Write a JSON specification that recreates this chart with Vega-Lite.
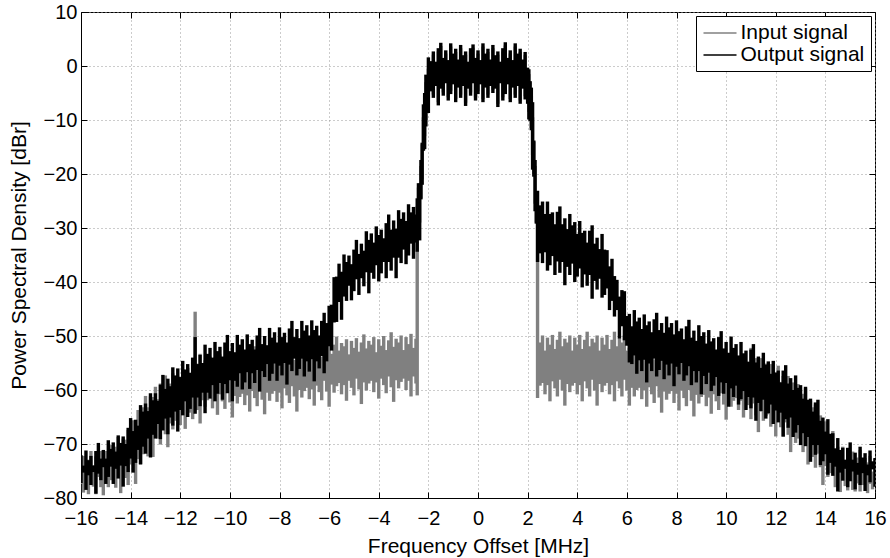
{
 "$schema": "https://vega.github.io/schema/vega-lite/v6.json",
 "width": 794, "height": 486,
 "autosize": {"type": "none"},
 "padding": {"left": 81, "top": 12, "right": 15, "bottom": 60},
 "background": "white",
 "config": {
  "font": "Liberation Sans",
  "view": {"stroke": "#000", "strokeWidth": 1},
  "axis": {
   "tickSize": -6, "tickColor": "#000", "tickWidth": 1,
   "domainColor": "#000", "domainWidth": 1,
   "labelColor": "#000", "labelFontSize": 20, "labelFont": "Liberation Sans",
   "titleFont": "Liberation Sans", "titleFontSize": 21, "titleFontWeight": "normal", "titleColor": "#000",
   "gridColor": "#999", "gridDash": [1, 3], "gridWidth": 1, "gridOpacity": 1,
   "labelFlush": false, "labelBound": false, "labelOverlap": false
  },
  "legend": {
   "orient": "top-right", "offset": 4, "padding": 6,
   "strokeColor": "#000", "fillColor": "#fff", "strokeWidth": 1,
   "symbolType": "M-1.65,0H1.65", "symbolSize": 400, "symbolStrokeWidth": 1.5, "symbolOffset": 7,
   "labelFontSize": 21, "labelFont": "Liberation Sans", "labelColor": "#000", "labelOffset": 9.5,
   "rowPadding": 1
  }
 },
 "data": {"values": [
{"f":-16.0,"outLo":-77.2,"outHi":-72.1,"inLo":-77.4,"inHi":-74.1},
{"f":-15.9,"outLo":-75.3,"outHi":-74.0,"inLo":-79.0,"inHi":-72.2},
{"f":-15.8,"outLo":-78.5,"outHi":-71.2,"inLo":-77.6,"inHi":-74.7},
{"f":-15.7,"outLo":-75.8,"outHi":-73.0,"inLo":-79.3,"inHi":-72.9},
{"f":-15.6,"outLo":-77.6,"outHi":-72.2,"inLo":-76.8,"inHi":-71.3},
{"f":-15.5,"outLo":-75.2,"outHi":-74.0,"inLo":-77.9,"inHi":-73.9},
{"f":-15.4,"outLo":-79.2,"outHi":-71.3,"inLo":-79.3,"inHi":-72.3},
{"f":-15.3,"outLo":-75.5,"outHi":-69.8,"inLo":-76.1,"inHi":-72.8},
{"f":-15.2,"outLo":-76.7,"outHi":-72.7,"inLo":-78.0,"inHi":-71.3},
{"f":-15.1,"outLo":-74.3,"outHi":-71.1,"inLo":-79.5,"inHi":-73.9},
{"f":-15.0,"outLo":-77.4,"outHi":-72.7,"inLo":-76.6,"inHi":-71.3},
{"f":-14.9,"outLo":-76.1,"outHi":-69.3,"inLo":-78.0,"inHi":-72.3},
{"f":-14.8,"outLo":-74.2,"outHi":-70.9,"inLo":-76.7,"inHi":-70.2},
{"f":-14.7,"outLo":-77.4,"outHi":-69.7,"inLo":-76.1,"inHi":-72.5},
{"f":-14.6,"outLo":-74.6,"outHi":-71.4,"inLo":-78.1,"inHi":-70.5},
{"f":-14.5,"outLo":-76.4,"outHi":-68.4,"inLo":-76.3,"inHi":-68.7},
{"f":-14.4,"outLo":-74.0,"outHi":-69.8,"inLo":-79.1,"inHi":-70.9},
{"f":-14.3,"outLo":-77.9,"outHi":-68.6,"inLo":-75.2,"inHi":-69.0},
{"f":-14.2,"outLo":-74.1,"outHi":-70.0,"inLo":-76.3,"inHi":-69.2},
{"f":-14.1,"outLo":-75.2,"outHi":-67.0,"inLo":-77.6,"inHi":-67.4},
{"f":-14.0,"outLo":-72.7,"outHi":-65.2,"inLo":-73.8,"inHi":-68.7},
{"f":-13.9,"outLo":-75.3,"outHi":-67.6,"inLo":-75.2,"inHi":-65.6},
{"f":-13.8,"outLo":-73.5,"outHi":-65.5,"inLo":-77.4,"inHi":-66.2},
{"f":-13.7,"outLo":-71.1,"outHi":-66.6,"inLo":-72.8,"inHi":-63.7},
{"f":-13.6,"outLo":-73.8,"outHi":-62.8,"inLo":-73.7,"inHi":-65.6},
{"f":-13.5,"outLo":-70.5,"outHi":-64.0,"inLo":-71.9,"inHi":-63.2},
{"f":-13.4,"outLo":-71.8,"outHi":-62.5,"inLo":-70.8,"inHi":-61.1},
{"f":-13.3,"outLo":-69.0,"outHi":-63.9,"inLo":-72.3,"inHi":-63.2},
{"f":-13.2,"outLo":-72.5,"outHi":-60.6,"inLo":-70.0,"inHi":-61.2},
{"f":-13.1,"outLo":-68.3,"outHi":-61.9,"inLo":-72.4,"inHi":-61.3},
{"f":-13.0,"outLo":-69.0,"outHi":-60.6,"inLo":-68.1,"inHi":-59.4},
{"f":-12.9,"outLo":-66.3,"outHi":-62.0,"inLo":-69.0,"inHi":-61.7},
{"f":-12.8,"outLo":-69.1,"outHi":-59.0,"inLo":-70.1,"inHi":-58.8},
{"f":-12.7,"outLo":-67.5,"outHi":-57.2,"inLo":-66.6,"inHi":-59.6},
{"f":-12.6,"outLo":-65.3,"outHi":-59.8,"inLo":-68.2,"inHi":-57.3},
{"f":-12.5,"outLo":-68.2,"outHi":-57.9,"inLo":-70.6,"inHi":-60.9},
{"f":-12.4,"outLo":-65.1,"outHi":-59.3,"inLo":-66.2,"inHi":-58.8},
{"f":-12.3,"outLo":-66.6,"outHi":-55.8,"inLo":-67.3,"inHi":-56.9},
{"f":-12.2,"outLo":-64.0,"outHi":-57.3,"inLo":-65.7,"inHi":-59.2},
{"f":-12.1,"outLo":-67.7,"outHi":-56.0,"inLo":-64.8,"inHi":-57.4},
{"f":-12.0,"outLo":-63.7,"outHi":-57.6,"inLo":-66.5,"inHi":-57.7},
{"f":-11.9,"outLo":-64.7,"outHi":-54.6,"inLo":-64.5,"inHi":-56.1},
{"f":-11.8,"outLo":-62.1,"outHi":-56.2,"inLo":-67.2,"inHi":-58.6},
{"f":-11.7,"outLo":-65.0,"outHi":-55.2,"inLo":-63.2,"inHi":-55.9},
{"f":-11.6,"outLo":-63.5,"outHi":-56.8,"inLo":-64.2,"inHi":-56.9},
{"f":-11.5,"outLo":-61.4,"outHi":-54.0,"inLo":-65.4,"inHi":-54.8},
{"f":-11.4,"outLo":-64.4,"outHi":-50.2,"inLo":-62.0,"inHi":-45.5},
{"f":-11.3,"outLo":-61.4,"outHi":-55.2,"inLo":-63.7,"inHi":-55.1},
{"f":-11.2,"outLo":-63.0,"outHi":-53.5,"inLo":-66.2,"inHi":-53.3},
{"f":-11.1,"outLo":-60.5,"outHi":-55.0,"inLo":-61.9,"inHi":-55.7},
{"f":-11.0,"outLo":-64.3,"outHi":-51.6,"inLo":-63.1,"inHi":-54.5},
{"f":-10.9,"outLo":-60.5,"outHi":-53.3,"inLo":-61.9,"inHi":-55.1},
{"f":-10.8,"outLo":-61.6,"outHi":-52.2,"inLo":-61.3,"inHi":-53.8},
{"f":-10.7,"outLo":-59.1,"outHi":-54.0,"inLo":-63.4,"inHi":-56.5},
{"f":-10.6,"outLo":-62.1,"outHi":-51.1,"inLo":-61.6,"inHi":-54.0},
{"f":-10.5,"outLo":-60.7,"outHi":-52.8,"inLo":-64.6,"inHi":-55.3},
{"f":-10.4,"outLo":-58.7,"outHi":-52.0,"inLo":-60.8,"inHi":-53.4},
{"f":-10.3,"outLo":-61.8,"outHi":-53.8,"inLo":-62.1,"inHi":-55.9},
{"f":-10.2,"outLo":-58.9,"outHi":-51.2,"inLo":-63.5,"inHi":-54.2},
{"f":-10.1,"outLo":-60.6,"outHi":-49.8,"inLo":-60.4,"inHi":-52.6},
{"f":-10.0,"outLo":-58.2,"outHi":-52.8,"inLo":-62.3,"inHi":-55.3},
{"f":-9.9,"outLo":-62.1,"outHi":-51.3,"inLo":-65.1,"inHi":-53.8},
{"f":-9.8,"outLo":-58.3,"outHi":-53.0,"inLo":-61.1,"inHi":-54.4},
{"f":-9.7,"outLo":-59.4,"outHi":-49.8,"inLo":-62.5,"inHi":-53.1},
{"f":-9.6,"outLo":-56.9,"outHi":-51.6,"inLo":-61.3,"inHi":-55.8},
{"f":-9.5,"outLo":-59.9,"outHi":-50.6,"inLo":-60.7,"inHi":-53.4},
{"f":-9.4,"outLo":-58.6,"outHi":-52.5,"inLo":-62.8,"inHi":-54.6},
{"f":-9.3,"outLo":-56.7,"outHi":-49.7,"inLo":-61.0,"inHi":-52.7},
{"f":-9.2,"outLo":-59.8,"outHi":-51.5,"inLo":-64.0,"inHi":-55.3},
{"f":-9.1,"outLo":-56.9,"outHi":-50.7,"inLo":-60.2,"inHi":-53.5},
{"f":-9.0,"outLo":-58.7,"outHi":-52.5,"inLo":-61.5,"inHi":-51.9},
{"f":-8.9,"outLo":-56.3,"outHi":-49.9,"inLo":-63.0,"inHi":-54.6},
{"f":-8.8,"outLo":-60.3,"outHi":-48.5,"inLo":-59.8,"inHi":-53.1},
{"f":-8.7,"outLo":-56.5,"outHi":-51.5,"inLo":-61.8,"inHi":-53.8},
{"f":-8.6,"outLo":-57.6,"outHi":-50.0,"inLo":-64.5,"inHi":-52.4},
{"f":-8.5,"outLo":-55.2,"outHi":-51.7,"inLo":-60.5,"inHi":-55.1},
{"f":-8.4,"outLo":-58.3,"outHi":-48.5,"inLo":-62.0,"inHi":-52.7},
{"f":-8.3,"outLo":-57.0,"outHi":-50.3,"inLo":-60.7,"inHi":-53.9},
{"f":-8.2,"outLo":-55.1,"outHi":-49.3,"inLo":-60.2,"inHi":-52.0},
{"f":-8.1,"outLo":-58.3,"outHi":-51.2,"inLo":-62.2,"inHi":-54.6},
{"f":-8.0,"outLo":-55.5,"outHi":-48.4,"inLo":-60.5,"inHi":-52.8},
{"f":-7.9,"outLo":-57.3,"outHi":-50.2,"inLo":-63.4,"inHi":-51.3},
{"f":-7.8,"outLo":-55.0,"outHi":-49.4,"inLo":-59.7,"inHi":-53.9},
{"f":-7.7,"outLo":-59.0,"outHi":-51.2,"inLo":-61.0,"inHi":-52.4},
{"f":-7.6,"outLo":-55.3,"outHi":-48.6,"inLo":-62.4,"inHi":-53.1},
{"f":-7.5,"outLo":-56.5,"outHi":-47.2,"inLo":-59.3,"inHi":-51.7},
{"f":-7.4,"outLo":-54.2,"outHi":-50.2,"inLo":-61.2,"inHi":-54.4},
{"f":-7.3,"outLo":-57.3,"outHi":-48.7,"inLo":-64.0,"inHi":-52.0},
{"f":-7.2,"outLo":-56.1,"outHi":-50.4,"inLo":-60.0,"inHi":-53.2},
{"f":-7.1,"outLo":-54.2,"outHi":-47.2,"inLo":-61.4,"inHi":-51.4},
{"f":-7.0,"outLo":-57.5,"outHi":-49.0,"inLo":-60.2,"inHi":-53.9},
{"f":-6.9,"outLo":-54.7,"outHi":-48.0,"inLo":-59.6,"inHi":-52.1},
{"f":-6.8,"outLo":-56.6,"outHi":-49.9,"inLo":-61.7,"inHi":-50.6},
{"f":-6.7,"outLo":-54.3,"outHi":-47.1,"inLo":-59.9,"inHi":-53.2},
{"f":-6.6,"outLo":-58.4,"outHi":-48.9,"inLo":-62.9,"inHi":-51.7},
{"f":-6.5,"outLo":-54.7,"outHi":-48.1,"inLo":-59.2,"inHi":-52.4},
{"f":-6.4,"outLo":-56.0,"outHi":-49.9,"inLo":-60.4,"inHi":-51.0},
{"f":-6.3,"outLo":-53.7,"outHi":-47.2,"inLo":-61.9,"inHi":-53.8},
{"f":-6.2,"outLo":-56.9,"outHi":-45.7,"inLo":-58.3,"inHi":-51.3},
{"f":-6.1,"outLo":-54.7,"outHi":-47.6,"inLo":-60.3,"inHi":-52.6},
{"f":-6.0,"outLo":-51.9,"outHi":-44.4,"inLo":-63.1,"inHi":-50.8},
{"f":-5.9,"outLo":-52.7,"outHi":-44.2,"inLo":-59.0,"inHi":-53.3},
{"f":-5.8,"outLo":-47.5,"outHi":-39.1,"inLo":-60.5,"inHi":-51.6},
{"f":-5.7,"outLo":-47.4,"outHi":-39.0,"inLo":-59.3,"inHi":-50.1},
{"f":-5.6,"outLo":-43.7,"outHi":-36.6,"inLo":-58.7,"inHi":-52.7},
{"f":-5.5,"outLo":-47.0,"outHi":-38.1,"inLo":-60.8,"inHi":-51.3},
{"f":-5.4,"outLo":-42.7,"outHi":-34.9,"inLo":-59.1,"inHi":-51.9},
{"f":-5.3,"outLo":-43.5,"outHi":-36.3,"inLo":-62.0,"inHi":-50.6},
{"f":-5.2,"outLo":-40.7,"outHi":-35.1,"inLo":-58.3,"inHi":-53.4},
{"f":-5.1,"outLo":-43.4,"outHi":-36.7,"inLo":-59.6,"inHi":-50.9},
{"f":-5.0,"outLo":-41.7,"outHi":-34.0,"inLo":-61.0,"inHi":-52.2},
{"f":-4.9,"outLo":-39.5,"outHi":-32.2,"inLo":-57.9,"inHi":-50.4},
{"f":-4.8,"outLo":-42.4,"outHi":-34.8,"inLo":-59.9,"inHi":-52.9},
{"f":-4.7,"outLo":-39.3,"outHi":-32.9,"inLo":-62.6,"inHi":-51.2},
{"f":-4.6,"outLo":-40.8,"outHi":-34.2,"inLo":-58.6,"inHi":-49.7},
{"f":-4.5,"outLo":-38.2,"outHi":-30.6,"inLo":-60.1,"inHi":-52.3},
{"f":-4.4,"outLo":-42.1,"outHi":-32.2,"inLo":-58.8,"inHi":-50.9},
{"f":-4.3,"outLo":-38.3,"outHi":-31.0,"inLo":-58.3,"inHi":-51.6},
{"f":-4.2,"outLo":-39.4,"outHi":-32.7,"inLo":-60.4,"inHi":-50.2},
{"f":-4.1,"outLo":-36.9,"outHi":-29.7,"inLo":-58.6,"inHi":-53.0},
{"f":-4.0,"outLo":-39.9,"outHi":-31.3,"inLo":-61.6,"inHi":-50.6},
{"f":-3.9,"outLo":-38.4,"outHi":-30.3,"inLo":-57.9,"inHi":-51.8},
{"f":-3.8,"outLo":-36.3,"outHi":-31.9,"inLo":-59.1,"inHi":-50.0},
{"f":-3.7,"outLo":-39.3,"outHi":-29.1,"inLo":-60.6,"inHi":-52.6},
{"f":-3.6,"outLo":-36.3,"outHi":-27.5,"inLo":-57.5,"inHi":-50.8},
{"f":-3.5,"outLo":-37.9,"outHi":-30.3,"inLo":-59.5,"inHi":-49.3},
{"f":-3.4,"outLo":-35.5,"outHi":-28.6,"inLo":-62.2,"inHi":-52.0},
{"f":-3.3,"outLo":-39.3,"outHi":-30.1,"inLo":-58.2,"inHi":-50.5},
{"f":-3.2,"outLo":-35.5,"outHi":-26.7,"inLo":-59.7,"inHi":-51.2},
{"f":-3.1,"outLo":-36.5,"outHi":-28.3,"inLo":-58.5,"inHi":-49.9},
{"f":-3.0,"outLo":-34.0,"outHi":-27.1,"inLo":-57.9,"inHi":-52.6},
{"f":-2.9,"outLo":-36.7,"outHi":-28.7,"inLo":-60.0,"inHi":-50.2},
{"f":-2.8,"outLo":-35.1,"outHi":-25.6,"inLo":-58.3,"inHi":-51.5},
{"f":-2.7,"outLo":-32.9,"outHi":-27.1,"inLo":-61.2,"inHi":-49.6},
{"f":-2.6,"outLo":-35.7,"outHi":-26.1,"inLo":-57.5,"inHi":-52.2},
{"f":-2.5,"outLo":-32.7,"outHi":-27.5,"inLo":-58.8,"inHi":-50.5},
{"f":-2.45,"outLo":-34.4,"outHi":-24.5,"inLo":-61.0,"inHi":-26.0},
{"f":-2.4,"outLo":-30.7,"outHi":-21.7,"inLo":-30.5,"inHi":-22.5},
{"f":-2.35,"outLo":-32.3,"outHi":-21.8,"inLo":-29.0,"inHi":-22.0},
{"f":-2.3,"outLo":-24.7,"outHi":-17.4,"inLo":-24.5,"inHi":-18.5},
{"f":-2.25,"outLo":-22.0,"outHi":-14.2,"inLo":-21.0,"inHi":-14.5},
{"f":-2.2,"outLo":-15.7,"outHi":-7.1,"inLo":-15.5,"inHi":-9.5},
{"f":-2.15,"outLo":-15.4,"outHi":-5.0,"inLo":-13.0,"inHi":-5.5},
{"f":-2.1,"outLo":-11.2,"outHi":-1.6,"inLo":-10.0,"inHi":-3.0},
{"f":-2.05,"outLo":-6.9,"outHi":-2.1,"inLo":-6.5,"inHi":-2.5},
{"f":-2.0,"outLo":-8.7,"outHi":1.6,"inLo":-6.0,"inHi":-0.5},
{"f":-1.9,"outLo":-4.7,"outHi":0.9,"inLo":-4.5,"inHi":0.8},
{"f":-1.8,"outLo":-5.9,"outHi":2.7,"inLo":-5.3,"inHi":2.1},
{"f":-1.7,"outLo":-3.7,"outHi":0.8,"inLo":-3.1,"inHi":0.2},
{"f":-1.6,"outLo":-7.3,"outHi":3.3,"inLo":-6.7,"inHi":2.7},
{"f":-1.5,"outLo":-4.2,"outHi":4.3,"inLo":-3.6,"inHi":3.7},
{"f":-1.4,"outLo":-5.5,"outHi":1.5,"inLo":-4.9,"inHi":0.9},
{"f":-1.3,"outLo":-3.2,"outHi":2.9,"inLo":-2.6,"inHi":2.3},
{"f":-1.2,"outLo":-6.4,"outHi":1.1,"inLo":-5.8,"inHi":0.5},
{"f":-1.1,"outLo":-5.2,"outHi":4.2,"inLo":-4.6,"inHi":3.6},
{"f":-1.0,"outLo":-3.4,"outHi":2.3,"inLo":-2.8,"inHi":1.7},
{"f":-0.9,"outLo":-6.7,"outHi":3.2,"inLo":-6.1,"inHi":2.6},
{"f":-0.8,"outLo":-4.0,"outHi":1.2,"inLo":-3.4,"inHi":0.6},
{"f":-0.7,"outLo":-5.9,"outHi":3.9,"inLo":-5.3,"inHi":3.3},
{"f":-0.6,"outLo":-3.7,"outHi":2.0,"inLo":-3.1,"inHi":1.4},
{"f":-0.5,"outLo":-7.4,"outHi":2.7,"inLo":-6.8,"inHi":2.1},
{"f":-0.4,"outLo":-4.2,"outHi":0.8,"inLo":-3.6,"inHi":0.2},
{"f":-0.3,"outLo":-5.5,"outHi":3.3,"inLo":-4.9,"inHi":2.7},
{"f":-0.2,"outLo":-3.2,"outHi":4.0,"inLo":-2.6,"inHi":3.4},
{"f":-0.1,"outLo":-6.4,"outHi":1.5,"inLo":-5.8,"inHi":0.9},
{"f":0.0,"outLo":-5.2,"outHi":2.9,"inLo":-4.6,"inHi":2.3},
{"f":0.1,"outLo":-3.4,"outHi":1.1,"inLo":-2.8,"inHi":0.5},
{"f":0.2,"outLo":-6.7,"outHi":4.2,"inLo":-6.1,"inHi":3.6},
{"f":0.3,"outLo":-4.0,"outHi":2.3,"inLo":-3.4,"inHi":1.7},
{"f":0.4,"outLo":-5.9,"outHi":3.2,"inLo":-5.3,"inHi":2.6},
{"f":0.5,"outLo":-3.7,"outHi":1.2,"inLo":-3.1,"inHi":0.6},
{"f":0.6,"outLo":-5.0,"outHi":3.9,"inLo":-4.4,"inHi":3.3},
{"f":0.7,"outLo":-4.2,"outHi":2.0,"inLo":-3.6,"inHi":1.4},
{"f":0.8,"outLo":-7.6,"outHi":2.7,"inLo":-7.0,"inHi":2.1},
{"f":0.9,"outLo":-3.2,"outHi":0.8,"inLo":-2.6,"inHi":0.2},
{"f":1.0,"outLo":-6.4,"outHi":3.3,"inLo":-5.8,"inHi":2.7},
{"f":1.1,"outLo":-5.2,"outHi":4.4,"inLo":-4.6,"inHi":3.8},
{"f":1.2,"outLo":-3.4,"outHi":1.5,"inLo":-2.8,"inHi":0.9},
{"f":1.3,"outLo":-6.7,"outHi":2.9,"inLo":-6.1,"inHi":2.3},
{"f":1.4,"outLo":-4.0,"outHi":1.1,"inLo":-3.4,"inHi":0.5},
{"f":1.5,"outLo":-5.9,"outHi":4.2,"inLo":-5.3,"inHi":3.6},
{"f":1.6,"outLo":-3.7,"outHi":2.3,"inLo":-3.1,"inHi":1.7},
{"f":1.7,"outLo":-7.0,"outHi":3.2,"inLo":-6.4,"inHi":2.6},
{"f":1.8,"outLo":-4.2,"outHi":1.2,"inLo":-3.6,"inHi":0.6},
{"f":1.9,"outLo":-6.2,"outHi":2.6,"inLo":-5.6,"inHi":2.0},
{"f":2.0,"outLo":-7.0,"outHi":-0.3,"inLo":-5.8,"inHi":-0.8},
{"f":2.05,"outLo":-9.9,"outHi":-0.6,"inLo":-8.5,"inHi":-1.5},
{"f":2.1,"outLo":-10.2,"outHi":-2.8,"inLo":-10.0,"inHi":-3.0},
{"f":2.15,"outLo":-11.9,"outHi":-4.0,"inLo":-11.5,"inHi":-5.5},
{"f":2.2,"outLo":-19.2,"outHi":-6.7,"inLo":-16.5,"inHi":-9.5},
{"f":2.25,"outLo":-20.5,"outHi":-13.8,"inLo":-20.0,"inHi":-14.0},
{"f":2.3,"outLo":-26.9,"outHi":-17.4,"inLo":-25.5,"inHi":-18.5},
{"f":2.35,"outLo":-29.2,"outHi":-23.2,"inLo":-29.0,"inHi":-23.5},
{"f":2.4,"outLo":-36.3,"outHi":-23.1,"inLo":-61.5,"inHi":-26.0},
{"f":2.5,"outLo":-34.7,"outHi":-25.8,"inLo":-59.2,"inHi":-51.2},
{"f":2.6,"outLo":-36.5,"outHi":-25.1,"inLo":-58.7,"inHi":-49.9},
{"f":2.7,"outLo":-34.5,"outHi":-27.4,"inLo":-60.8,"inHi":-52.7},
{"f":2.8,"outLo":-37.9,"outHi":-25.1,"inLo":-59.1,"inHi":-50.3},
{"f":2.9,"outLo":-36.9,"outHi":-27.4,"inLo":-62.1,"inHi":-51.6},
{"f":3.0,"outLo":-35.2,"outHi":-27.1,"inLo":-58.4,"inHi":-49.8},
{"f":3.1,"outLo":-38.7,"outHi":-29.3,"inLo":-59.7,"inHi":-52.4},
{"f":3.2,"outLo":-36.2,"outHi":-27.0,"inLo":-61.2,"inHi":-50.7},
{"f":3.3,"outLo":-38.3,"outHi":-26.0,"inLo":-58.1,"inHi":-49.2},
{"f":3.4,"outLo":-36.3,"outHi":-29.3,"inLo":-60.1,"inHi":-51.9},
{"f":3.5,"outLo":-40.6,"outHi":-28.2,"inLo":-62.9,"inHi":-50.5},
{"f":3.6,"outLo":-37.2,"outHi":-30.2,"inLo":-58.9,"inHi":-51.2},
{"f":3.7,"outLo":-38.7,"outHi":-27.4,"inLo":-60.4,"inHi":-49.9},
{"f":3.8,"outLo":-36.6,"outHi":-29.5,"inLo":-59.2,"inHi":-52.7},
{"f":3.9,"outLo":-40.0,"outHi":-28.9,"inLo":-58.7,"inHi":-50.3},
{"f":4.0,"outLo":-39.0,"outHi":-31.1,"inLo":-60.8,"inHi":-51.6},
{"f":4.1,"outLo":-37.5,"outHi":-28.7,"inLo":-59.1,"inHi":-49.8},
{"f":4.2,"outLo":-41.0,"outHi":-30.9,"inLo":-62.1,"inHi":-52.4},
{"f":4.3,"outLo":-38.6,"outHi":-30.5,"inLo":-58.4,"inHi":-50.7},
{"f":4.4,"outLo":-40.7,"outHi":-32.7,"inLo":-59.7,"inHi":-49.2},
{"f":4.5,"outLo":-38.7,"outHi":-30.5,"inLo":-61.2,"inHi":-51.9},
{"f":4.6,"outLo":-43.1,"outHi":-29.5,"inLo":-58.1,"inHi":-50.5},
{"f":4.7,"outLo":-39.8,"outHi":-32.9,"inLo":-60.1,"inHi":-51.2},
{"f":4.8,"outLo":-41.4,"outHi":-31.8,"inLo":-62.9,"inHi":-49.9},
{"f":4.9,"outLo":-39.4,"outHi":-33.9,"inLo":-58.9,"inHi":-52.7},
{"f":5.0,"outLo":-42.9,"outHi":-31.1,"inLo":-60.4,"inHi":-50.3},
{"f":5.1,"outLo":-42.4,"outHi":-34.0,"inLo":-59.2,"inHi":-51.6},
{"f":5.2,"outLo":-41.2,"outHi":-34.1,"inLo":-58.7,"inHi":-49.8},
{"f":5.3,"outLo":-45.2,"outHi":-37.1,"inLo":-60.8,"inHi":-52.4},
{"f":5.4,"outLo":-43.5,"outHi":-35.7,"inLo":-59.1,"inHi":-50.7},
{"f":5.5,"outLo":-46.4,"outHi":-38.9,"inLo":-62.1,"inHi":-49.2},
{"f":5.6,"outLo":-45.2,"outHi":-39.6,"inLo":-58.4,"inHi":-51.9},
{"f":5.7,"outLo":-50.5,"outHi":-42.7,"inLo":-59.7,"inHi":-50.5},
{"f":5.8,"outLo":-48.2,"outHi":-41.5,"inLo":-61.2,"inHi":-51.2},
{"f":5.9,"outLo":-50.8,"outHi":-41.7,"inLo":-58.1,"inHi":-49.9},
{"f":6.0,"outLo":-51.8,"outHi":-46.3,"inLo":-60.1,"inHi":-52.7},
{"f":6.1,"outLo":-54.9,"outHi":-45.9,"inLo":-62.9,"inHi":-50.3},
{"f":6.2,"outLo":-55.2,"outHi":-48.2,"inLo":-59.6,"inHi":-52.6},
{"f":6.3,"outLo":-53.6,"outHi":-45.2,"inLo":-61.2,"inHi":-50.9},
{"f":6.4,"outLo":-57.0,"outHi":-47.3,"inLo":-60.0,"inHi":-53.5},
{"f":6.5,"outLo":-54.5,"outHi":-46.6,"inLo":-59.6,"inHi":-51.9},
{"f":6.6,"outLo":-56.5,"outHi":-48.7,"inLo":-61.7,"inHi":-50.5},
{"f":6.7,"outLo":-54.4,"outHi":-46.0,"inLo":-60.1,"inHi":-53.2},
{"f":6.8,"outLo":-58.6,"outHi":-48.0,"inLo":-63.1,"inHi":-51.9},
{"f":6.9,"outLo":-55.1,"outHi":-47.3,"inLo":-59.5,"inHi":-52.7},
{"f":7.0,"outLo":-56.5,"outHi":-49.3,"inLo":-60.8,"inHi":-51.4},
{"f":7.1,"outLo":-54.2,"outHi":-46.9,"inLo":-62.4,"inHi":-54.3},
{"f":7.2,"outLo":-57.5,"outHi":-45.7,"inLo":-59.3,"inHi":-51.9},
{"f":7.3,"outLo":-56.3,"outHi":-48.9,"inLo":-61.4,"inHi":-53.3},
{"f":7.4,"outLo":-54.6,"outHi":-47.6,"inLo":-64.2,"inHi":-51.6},
{"f":7.5,"outLo":-58.0,"outHi":-49.4,"inLo":-60.3,"inHi":-54.2},
{"f":7.6,"outLo":-55.3,"outHi":-46.4,"inLo":-61.8,"inHi":-52.6},
{"f":7.7,"outLo":-57.3,"outHi":-48.4,"inLo":-60.7,"inHi":-51.2},
{"f":7.8,"outLo":-55.1,"outHi":-47.6,"inLo":-60.2,"inHi":-53.9},
{"f":7.9,"outLo":-59.3,"outHi":-49.7,"inLo":-62.4,"inHi":-52.6},
{"f":8.0,"outLo":-55.7,"outHi":-47.1,"inLo":-60.7,"inHi":-53.4},
{"f":8.1,"outLo":-57.1,"outHi":-49.1,"inLo":-63.8,"inHi":-52.1},
{"f":8.2,"outLo":-55.0,"outHi":-48.6,"inLo":-60.1,"inHi":-55.0},
{"f":8.3,"outLo":-58.3,"outHi":-50.6,"inLo":-61.5,"inHi":-52.7},
{"f":8.4,"outLo":-57.3,"outHi":-48.2,"inLo":-63.0,"inHi":-54.0},
{"f":8.5,"outLo":-55.6,"outHi":-47.0,"inLo":-60.0,"inHi":-52.3},
{"f":8.6,"outLo":-59.1,"outHi":-50.3,"inLo":-62.0,"inHi":-55.0},
{"f":8.7,"outLo":-56.5,"outHi":-49.0,"inLo":-64.9,"inHi":-53.3},
{"f":8.8,"outLo":-58.6,"outHi":-50.9,"inLo":-60.9,"inHi":-51.9},
{"f":8.9,"outLo":-56.5,"outHi":-48.0,"inLo":-62.5,"inHi":-54.6},
{"f":9.0,"outLo":-60.8,"outHi":-50.0,"inLo":-61.3,"inHi":-53.3},
{"f":9.1,"outLo":-57.4,"outHi":-49.3,"inLo":-60.9,"inHi":-54.1},
{"f":9.2,"outLo":-58.9,"outHi":-51.4,"inLo":-63.0,"inHi":-52.8},
{"f":9.3,"outLo":-56.8,"outHi":-48.9,"inLo":-61.4,"inHi":-55.7},
{"f":9.4,"outLo":-60.2,"outHi":-51.0,"inLo":-64.4,"inHi":-53.4},
{"f":9.5,"outLo":-59.2,"outHi":-50.4,"inLo":-60.8,"inHi":-54.7},
{"f":9.6,"outLo":-57.6,"outHi":-52.5,"inLo":-62.1,"inHi":-53.0},
{"f":9.7,"outLo":-61.1,"outHi":-50.2,"inLo":-63.7,"inHi":-55.6},
{"f":9.8,"outLo":-58.6,"outHi":-49.1,"inLo":-60.6,"inHi":-54.0},
{"f":9.9,"outLo":-60.7,"outHi":-52.3,"inLo":-62.7,"inHi":-52.6},
{"f":10.0,"outLo":-58.7,"outHi":-51.1,"inLo":-65.5,"inHi":-55.3},
{"f":10.1,"outLo":-63.1,"outHi":-53.1,"inLo":-61.6,"inHi":-54.0},
{"f":10.2,"outLo":-59.7,"outHi":-50.1,"inLo":-63.1,"inHi":-54.8},
{"f":10.3,"outLo":-61.3,"outHi":-52.2,"inLo":-62.0,"inHi":-53.5},
{"f":10.4,"outLo":-59.2,"outHi":-51.5,"inLo":-61.5,"inHi":-56.4},
{"f":10.5,"outLo":-62.7,"outHi":-53.6,"inLo":-63.7,"inHi":-54.0},
{"f":10.6,"outLo":-61.7,"outHi":-51.1,"inLo":-62.0,"inHi":-55.4},
{"f":10.7,"outLo":-60.2,"outHi":-53.2,"inLo":-65.1,"inHi":-53.7},
{"f":10.8,"outLo":-63.7,"outHi":-52.7,"inLo":-61.4,"inHi":-56.3},
{"f":10.9,"outLo":-61.3,"outHi":-54.8,"inLo":-62.8,"inHi":-54.7},
{"f":11.0,"outLo":-63.4,"outHi":-52.5,"inLo":-65.4,"inHi":-52.2},
{"f":11.1,"outLo":-61.4,"outHi":-51.5,"inLo":-62.5,"inHi":-55.2},
{"f":11.2,"outLo":-65.7,"outHi":-54.9,"inLo":-64.7,"inHi":-54.1},
{"f":11.3,"outLo":-62.4,"outHi":-53.8,"inLo":-67.8,"inHi":-55.1},
{"f":11.4,"outLo":-63.9,"outHi":-55.9,"inLo":-64.0,"inHi":-54.1},
{"f":11.5,"outLo":-61.8,"outHi":-53.1,"inLo":-65.7,"inHi":-57.2},
{"f":11.6,"outLo":-65.3,"outHi":-55.3,"inLo":-64.8,"inHi":-55.1},
{"f":11.7,"outLo":-64.3,"outHi":-54.7,"inLo":-64.5,"inHi":-56.7},
{"f":11.8,"outLo":-62.7,"outHi":-57.0,"inLo":-66.8,"inHi":-55.2},
{"f":11.9,"outLo":-66.3,"outHi":-54.6,"inLo":-65.4,"inHi":-58.1},
{"f":12.0,"outLo":-63.8,"outHi":-56.8,"inLo":-68.6,"inHi":-56.7},
{"f":12.1,"outLo":-66.0,"outHi":-56.4,"inLo":-65.2,"inHi":-55.5},
{"f":12.2,"outLo":-64.2,"outHi":-58.6,"inLo":-66.9,"inHi":-58.5},
{"f":12.3,"outLo":-68.6,"outHi":-56.4,"inLo":-68.7,"inHi":-57.4},
{"f":12.4,"outLo":-65.4,"outHi":-55.4,"inLo":-66.0,"inHi":-58.4},
{"f":12.5,"outLo":-67.0,"outHi":-58.8,"inLo":-68.3,"inHi":-57.4},
{"f":12.6,"outLo":-65.1,"outHi":-57.8,"inLo":-71.5,"inHi":-60.6},
{"f":12.7,"outLo":-68.7,"outHi":-60.0,"inLo":-67.9,"inHi":-58.6},
{"f":12.8,"outLo":-67.9,"outHi":-57.3,"inLo":-69.8,"inHi":-60.3},
{"f":12.9,"outLo":-66.5,"outHi":-59.6,"inLo":-69.0,"inHi":-58.9},
{"f":13.0,"outLo":-70.2,"outHi":-59.1,"inLo":-68.9,"inHi":-61.9},
{"f":13.1,"outLo":-68.0,"outHi":-61.6,"inLo":-71.5,"inHi":-60.7},
{"f":13.2,"outLo":-70.4,"outHi":-59.4,"inLo":-70.3,"inHi":-59.7},
{"f":13.3,"outLo":-68.7,"outHi":-61.8,"inLo":-73.8,"inHi":-62.9},
{"f":13.4,"outLo":-73.3,"outHi":-61.6,"inLo":-70.6,"inHi":-62.0},
{"f":13.5,"outLo":-70.2,"outHi":-64.0,"inLo":-72.4,"inHi":-63.2},
{"f":13.6,"outLo":-72.0,"outHi":-62.3,"inLo":-74.4,"inHi":-62.7},
{"f":13.7,"outLo":-70.2,"outHi":-61.8,"inLo":-71.8,"inHi":-66.3},
{"f":13.8,"outLo":-73.9,"outHi":-65.7,"inLo":-74.3,"inHi":-64.7},
{"f":13.9,"outLo":-73.2,"outHi":-65.1,"inLo":-77.6,"inHi":-66.8},
{"f":14.0,"outLo":-71.9,"outHi":-67.7,"inLo":-74.1,"inHi":-65.8},
{"f":14.1,"outLo":-75.7,"outHi":-65.4,"inLo":-76.1,"inHi":-69.2},
{"f":14.2,"outLo":-73.5,"outHi":-68.1,"inLo":-75.4,"inHi":-68.3},
{"f":14.3,"outLo":-75.9,"outHi":-68.0,"inLo":-75.4,"inHi":-67.6},
{"f":14.4,"outLo":-74.2,"outHi":-70.8,"inLo":-78.0,"inHi":-71.1},
{"f":14.5,"outLo":-78.8,"outHi":-68.9,"inLo":-76.8,"inHi":-70.5},
{"f":14.6,"outLo":-75.3,"outHi":-71.1,"inLo":-78.9,"inHi":-71.5},
{"f":14.7,"outLo":-76.8,"outHi":-70.7,"inLo":-76.4,"inHi":-70.5},
{"f":14.8,"outLo":-74.6,"outHi":-72.9,"inLo":-77.8,"inHi":-73.6},
{"f":14.9,"outLo":-78.0,"outHi":-70.7,"inLo":-78.6,"inHi":-71.5},
{"f":15.0,"outLo":-76.9,"outHi":-69.7,"inLo":-76.5,"inHi":-73.1},
{"f":15.1,"outLo":-75.1,"outHi":-72.9,"inLo":-78.5,"inHi":-71.4},
{"f":15.2,"outLo":-78.4,"outHi":-71.6,"inLo":-78.8,"inHi":-74.1},
{"f":15.3,"outLo":-75.7,"outHi":-73.5,"inLo":-77.3,"inHi":-72.5},
{"f":15.4,"outLo":-77.6,"outHi":-70.5,"inLo":-78.8,"inHi":-71.1},
{"f":15.5,"outLo":-75.4,"outHi":-72.5,"inLo":-77.6,"inHi":-73.9},
{"f":15.6,"outLo":-78.7,"outHi":-71.7,"inLo":-77.1,"inHi":-72.6},
{"f":15.7,"outLo":-75.8,"outHi":-73.8,"inLo":-79.1,"inHi":-73.4},
{"f":15.8,"outLo":-77.1,"outHi":-71.2,"inLo":-77.4,"inHi":-72.2},
{"f":15.9,"outLo":-74.7,"outHi":-73.2,"inLo":-78.4,"inHi":-75.1},
{"f":16.0,"outLo":-77.9,"outHi":-72.6,"inLo":-76.6,"inHi":-72.8}
 ]},
 "layer": [
  {
   "mark": {"type": "rule", "strokeWidth": 3.4, "strokeCap": "butt", "clip": true},
   "encoding": {
    "x": {"field": "f", "type": "quantitative",
          "scale": {"domain": [-16, 16], "nice": false, "zero": false},
          "axis": {"orient": "bottom", "values": [-16,-14,-12,-10,-8,-6,-4,-2,0,2,4,6,8,10,12,14,16],
                   "title": "Frequency Offset [MHz]", "grid": true, "labelPadding": 16, "titlePadding": 7}},
    "y": {"field": "inLo", "type": "quantitative",
          "scale": {"domain": [-80, 10], "nice": false, "zero": false},
          "axis": {"orient": "left", "values": [-80,-70,-60,-50,-40,-30,-20,-10,0,10],
                   "title": "Power Spectral Density [dBr]", "grid": true, "labelPadding": 10, "titlePadding": 14}},
    "y2": {"field": "inHi"},
    "color": {"datum": "Input signal", "type": "nominal",
              "scale": {"domain": ["Input signal", "Output signal"], "range": ["#808080", "#000000"]},
              "legend": {"title": null}}
   }
  },
  {
   "mark": {"type": "rule", "strokeWidth": 3.4, "strokeCap": "butt", "clip": true},
   "encoding": {
    "x": {"field": "f", "type": "quantitative",
          "axis": {"orient": "top", "values": [-16,-14,-12,-10,-8,-6,-4,-2,0,2,4,6,8,10,12,14,16],
                   "labels": false, "grid": false, "title": null, "domain": false}},
    "y": {"field": "outLo", "type": "quantitative",
          "axis": {"orient": "right", "values": [-80,-70,-60,-50,-40,-30,-20,-10,0,10],
                   "labels": false, "grid": false, "title": null, "domain": false}},
    "y2": {"field": "outHi"},
    "color": {"datum": "Output signal", "type": "nominal"}
   }
  }
 ],
 "resolve": {"axis": {"x": "independent", "y": "independent"}}
}
